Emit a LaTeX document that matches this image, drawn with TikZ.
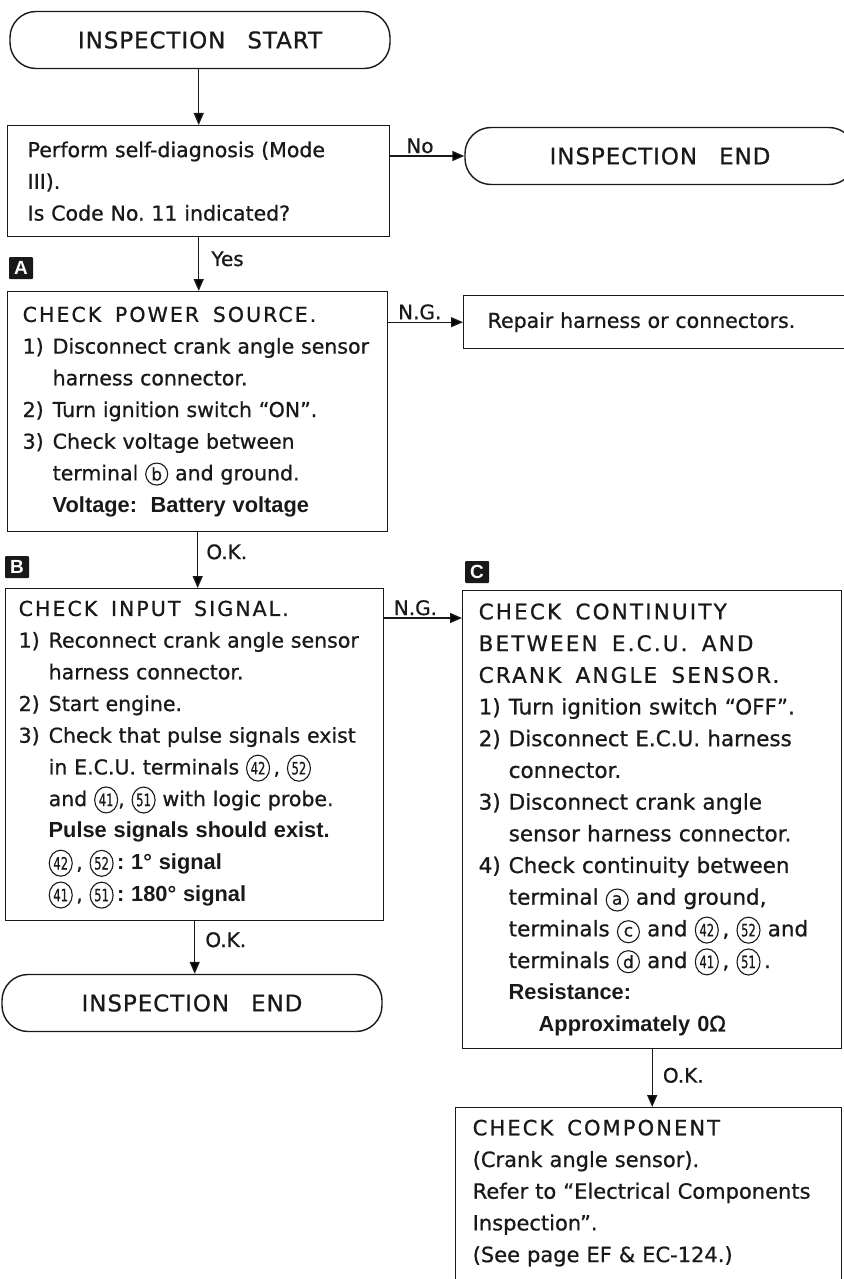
\documentclass[tikz,border=0pt]{standalone}
\usepackage{fontspec}
\setmainfont{DejaVu Sans}[RawFeature={embolden=0.8}]
\newfontfamily\capsfont{DejaVu Sans}[LetterSpace=10, RawFeature={embolden=0.8}]
\newfontfamily\termfont{DejaVu Sans}[LetterSpace=4, RawFeature={embolden=0.8}]
\newfontfamily\boldfont{Liberation Sans}
\usepackage{xcolor}
\usepackage{graphicx}
\usepackage{tikz}
\usetikzlibrary{positioning,arrows.meta,shapes,shapes.geometric,calc}
\definecolor{ink}{RGB}{25,25,25}
\frenchspacing

\newcommand{\boxfont}{\fontsize{20.5}{31.7}\selectfont}
\newcommand{\itemno}[1]{\makebox[30pt][l]{#1}}
\newcommand{\contind}{\hspace*{30pt}}
\newcommand{\bfpart}[1]{{\boldfont\bfseries\fontsize{21.8}{31.7}\selectfont #1}}
\newcommand{\cnum}[1]{\tikz[baseline=(cn.base)]\node[cnumber] (cn) {\scalebox{0.68}[1]{#1}};}
\newcommand{\cltr}[1]{\tikz[baseline=(cl.base)]\node[cletter] (cl) {#1};}

\tikzset{
  flowbox/.style={draw=ink, line width=1.4pt, anchor=north west, align=left,
    text=ink, font=\boxfont, inner ysep=8pt},
  termbox/.style={draw=ink, line width=1.4pt, rounded corners=26pt,
    minimum height=57pt, text=ink, font=\termfont\fontsize{23}{23}\selectfont},
  arr/.style={draw=ink, line width=1.4pt, -{Triangle[length=12pt,width=10pt]}},
  lbl/.style={text=ink, font=\fontsize{20}{20}\selectfont, inner sep=2pt},
  badge/.style={fill=ink, text=white, font=\boldfont\bfseries\fontsize{19}{19}\selectfont,
    minimum width=24pt, minimum height=22pt, inner sep=0pt, rounded corners=1pt},
  cnumber/.style={draw=ink, ellipse, line width=1.1pt, inner sep=0pt, text width={},
    align=center, anchor=center, minimum width=23pt, minimum height=26pt,
    font=\fontsize{17}{17}\selectfont},
  cletter/.style={draw=ink, circle, line width=1.1pt, inner sep=0pt, text width={},
    align=center, anchor=center, minimum size=22pt, font=\fontsize{17}{17}\selectfont},
}

\begin{document}
\begin{tikzpicture}[x=1pt,y=1pt]
  \useasboundingbox (0,0) rectangle (843,-1279);

  % left column
  \node[termbox, minimum width=380pt] (start) at (200,-40) {INSPECTION\hspace{0.6em} START};
  \node[flowbox, minimum width=382pt, text width=342pt, inner xsep=20pt,
        minimum height=111pt] (diag) at (7,-125) {
    Perform self-diagnosis (Mode\\
    III).\\
    Is Code No. 11 indicated?};
  \node[termbox, minimum width=390pt] (end1) at (660,-156) {INSPECTION\hspace{0.6em} END};

  \node[badge] (tagA) at (21,-268) {A};
  \node[flowbox, minimum width=380pt, text width=350pt, inner xsep=15pt,
        minimum height=240pt] (chkpow) at (7,-291) {
    {\capsfont CHECK\ \ POWER\ \ SOURCE.}\\
    \itemno{1)}Disconnect crank angle sensor\\
    \contind harness connector.\\
    \itemno{2)}Turn ignition switch “ON”.\\
    \itemno{3)}Check voltage between\\
    \contind terminal \cltr{b} and ground.\\
    \contind\bfpart{Voltage:\ \ Battery voltage}};
  \node[flowbox, minimum width=400pt, text width=352pt, inner xsep=24pt,
        minimum height=53pt] (repair) at (463,-295) {Repair harness or connectors.};

  \node[badge] (tagB) at (17,-567) {B};
  \node[flowbox, minimum width=378pt, text width=352pt, inner xsep=13pt,
        minimum height=332pt] (chkinput) at (5,-588) {
    {\capsfont CHECK\ \ INPUT\ \ SIGNAL.}\\
    \itemno{1)}Reconnect crank angle sensor\\
    \contind harness connector.\\
    \itemno{2)}Start engine.\\
    \itemno{3)}Check that pulse signals exist\\
    \contind in E.C.U. terminals \cnum{42}\,, \cnum{52}\\
    \contind and \cnum{41}, \cnum{51} with logic probe.\\
    \contind\bfpart{Pulse signals should exist.}\\
    \contind\cnum{42}\,, \cnum{52}\,\bfpart{: 1° signal}\\
    \contind\cnum{41}\,, \cnum{51}\,\bfpart{: 180° signal}};
  \node[termbox, minimum width=380pt] (end2) at (192,-1003) {INSPECTION\hspace{0.6em} END};

  % right column
  \node[badge] (tagC) at (477,-572) {C};
  \node[flowbox, font=\fontsize{21.5}{31.7}\selectfont, minimum width=379pt,
        text width=347pt, inner xsep=16pt, minimum height=458pt] (chkcont) at (462,-590) {
    {\capsfont CHECK\ \ CONTINUITY}\\
    {\capsfont BETWEEN\ \ E.C.U.\ \ AND}\\
    {\capsfont CRANK\ \ ANGLE\ \ SENSOR.}\\
    \itemno{1)}Turn ignition switch “OFF”.\\
    \itemno{2)}Disconnect E.C.U. harness\\
    \contind connector.\\
    \itemno{3)}Disconnect crank angle\\
    \contind sensor harness connector.\\
    \itemno{4)}Check continuity between\\
    \contind terminal \cltr{a} and ground,\\
    \contind terminals \cltr{c} and \cnum{42}\,, \cnum{52} and\\
    \contind terminals \cltr{d} and \cnum{41}\,, \cnum{51}\,.\\
    \contind\bfpart{Resistance:}\\
    \contind\hspace*{30pt}\bfpart{Approximately 0}Ω};
  \node[flowbox, font=\fontsize{21}{31.7}\selectfont, minimum width=386pt,
        text width=352pt, inner xsep=17pt, inner ysep=12pt] (chkcomp) at (455,-1107) {
    {\capsfont CHECK\ \ COMPONENT}\\
    (Crank angle sensor).\\
    Refer to “Electrical Components\\
    Inspection”.\\
    (See page EF \& EC-124.)\\[20pt]
    \mbox{}};

  % connectors
  \coordinate (ngin) at ([yshift=-28pt]chkcont.north west);
  \draw[arr] (diag.north |- start.south) -- (diag.north);
  \draw[arr] (diag.east |- end1.west) -- node[lbl, above, pos=0.4] (no) {No} (end1.west);
  \draw[arr] (diag.south) -- node[lbl, right, pos=0.4, xshift=10pt] (yes) {Yes} (diag.south |- chkpow.north);
  \draw[arr] (chkpow.east |- repair.west) -- node[lbl, above, pos=0.42] (ngA) {N.G.} (repair.west);
  \draw[arr] (chkpow.south) -- node[lbl, right, pos=0.35, xshift=6pt] (okA) {O.K.} (chkpow.south |- chkinput.north);
  \draw[arr] (chkinput.east |- ngin) -- node[lbl, above, pos=0.4] (ngB) {N.G.} (ngin);
  \draw[arr] (chkinput.south) -- node[lbl, right, pos=0.35, xshift=8pt] (okB) {O.K.} (chkinput.south |- end2.north);
  \draw[arr] (chkcont.south) -- node[lbl, right, pos=0.45, xshift=8pt] (okC) {O.K.} (chkcont.south |- chkcomp.north);
\end{tikzpicture}
\end{document}
